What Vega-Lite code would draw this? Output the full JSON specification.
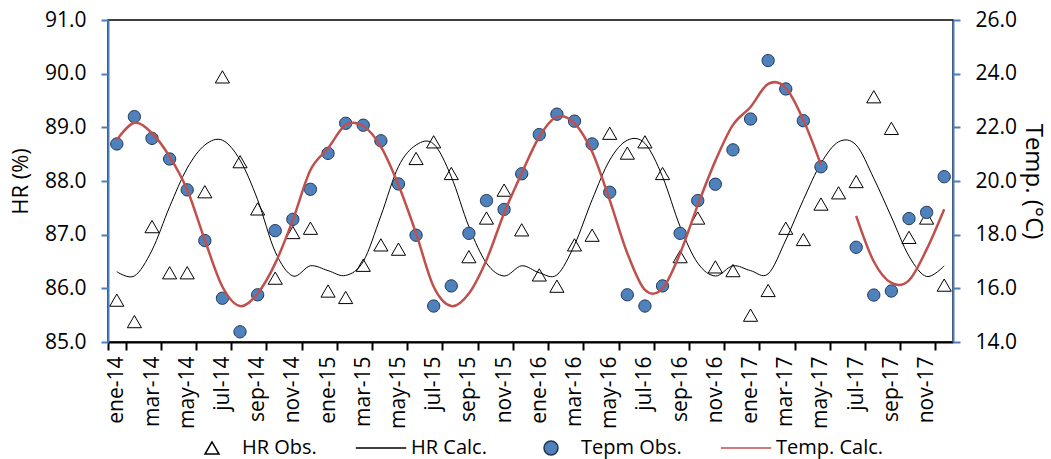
{
  "$schema": "https://vega.github.io/schema/vega-lite/v6.json",
  "width": 845,
  "height": 322,
  "autosize": "none",
  "padding": {"left": 108, "top": 20, "right": 98, "bottom": 117},
  "background": "white",
  "config": {
    "font": "Open Sans",
    "view": {"stroke": "black", "strokeWidth": 1.5},
    "axis": {"labelFont": "Open Sans", "titleFont": "Open Sans", "labelFontSize": 21, "titleFontSize": 22, "titleFontWeight": "normal", "labelColor": "black", "titleColor": "black", "grid": false},
    "legend": {"orient": "none", "legendX": 94, "legendY": 418, "direction": "horizontal", "labelFont": "Open Sans", "labelFontSize": 20, "labelColor": "black", "labelOffset": 20, "columnPadding": 35, "symbolSize": 196, "padding": 0, "symbolOpacity": 1}
  },
  "data": {"values": [
    {"m": "ene-14", "hro": 85.78, "hrc": 86.31, "to": 21.38, "tc": 21.53},
    {"m": "feb-14", "hro": 85.38, "hrc": 86.23, "to": 22.40, "tc": 22.17},
    {"m": "mar-14", "hro": 87.15, "hrc": 86.71, "to": 21.59, "tc": 21.78},
    {"m": "abr-14", "hro": 86.29, "hrc": 87.52, "to": 20.82, "tc": 20.91},
    {"m": "may-14", "hro": 86.29, "hrc": 88.24, "to": 19.67, "tc": 19.67},
    {"m": "jun-14", "hro": 87.80, "hrc": 88.67, "to": 17.78, "tc": 17.80},
    {"m": "jul-14", "hro": 89.94, "hrc": 88.76, "to": 15.63, "tc": 16.06},
    {"m": "ago-14", "hro": 88.36, "hrc": 88.39, "to": 14.38, "tc": 15.34},
    {"m": "sep-14", "hro": 87.48, "hrc": 87.65, "to": 15.76, "tc": 15.81},
    {"m": "oct-14", "hro": 86.19, "hrc": 86.68, "to": 18.15, "tc": 16.93},
    {"m": "nov-14", "hro": 87.04, "hrc": 86.23, "to": 18.57, "tc": 18.55},
    {"m": "dic-14", "hro": 87.12, "hrc": 86.42, "to": 19.69, "tc": 20.41},
    {"m": "ene-15", "hro": 85.95, "hrc": 86.33, "to": 21.03, "tc": 21.22},
    {"m": "feb-15", "hro": 85.83, "hrc": 86.24, "to": 22.15, "tc": 22.09},
    {"m": "mar-15", "hro": 86.43, "hrc": 86.50, "to": 22.08, "tc": 22.05},
    {"m": "abr-15", "hro": 86.81, "hrc": 87.35, "to": 21.50, "tc": 21.28},
    {"m": "may-15", "hro": 86.73, "hrc": 88.27, "to": 19.89, "tc": 19.85},
    {"m": "jun-15", "hro": 88.42, "hrc": 88.67, "to": 17.98, "tc": 18.05},
    {"m": "jul-15", "hro": 88.73, "hrc": 88.69, "to": 15.34, "tc": 16.06},
    {"m": "ago-15", "hro": 88.14, "hrc": 88.08, "to": 16.09, "tc": 15.34},
    {"m": "sep-15", "hro": 86.59, "hrc": 87.15, "to": 18.05, "tc": 15.81},
    {"m": "oct-15", "hro": 87.31, "hrc": 86.47, "to": 19.27, "tc": 17.06},
    {"m": "nov-15", "hro": 87.83, "hrc": 86.23, "to": 18.94, "tc": 18.80},
    {"m": "dic-15", "hro": 87.09, "hrc": 86.42, "to": 20.27, "tc": 20.29},
    {"m": "ene-16", "hro": 86.25, "hrc": 86.29, "to": 21.73, "tc": 21.65},
    {"m": "feb-16", "hro": 86.04, "hrc": 86.25, "to": 22.49, "tc": 22.40},
    {"m": "mar-16", "hro": 86.81, "hrc": 86.81, "to": 22.23, "tc": 22.15},
    {"m": "abr-16", "hro": 86.99, "hrc": 87.65, "to": 21.38, "tc": 21.09},
    {"m": "may-16", "hro": 88.89, "hrc": 88.39, "to": 19.58, "tc": 19.29},
    {"m": "jun-16", "hro": 88.52, "hrc": 88.76, "to": 15.76, "tc": 17.31},
    {"m": "jul-16", "hro": 88.73, "hrc": 88.70, "to": 15.34, "tc": 15.94},
    {"m": "ago-16", "hro": 88.14, "hrc": 88.08, "to": 16.09, "tc": 16.00},
    {"m": "sep-16", "hro": 86.59, "hrc": 87.15, "to": 18.05, "tc": 17.31},
    {"m": "oct-16", "hro": 87.31, "hrc": 86.47, "to": 19.27, "tc": 19.10},
    {"m": "nov-16", "hro": 86.40, "hrc": 86.23, "to": 19.88, "tc": 20.75},
    {"m": "dic-16", "hro": 86.33, "hrc": 86.42, "to": 21.16, "tc": 22.09},
    {"m": "ene-17", "hro": 85.50, "hrc": 86.33, "to": 22.31, "tc": 22.76},
    {"m": "feb-17", "hro": 85.96, "hrc": 86.27, "to": 24.49, "tc": 23.62},
    {"m": "mar-17", "hro": 87.12, "hrc": 86.90, "to": 23.43, "tc": 23.47},
    {"m": "abr-17", "hro": 86.91, "hrc": 87.65, "to": 22.25, "tc": 22.27},
    {"m": "may-17", "hro": 87.57, "hrc": 88.33, "to": 20.53, "tc": 20.60},
    {"m": "jun-17", "hro": 87.78, "hrc": 88.73, "to": null, "tc": null},
    {"m": "jul-17", "hro": 87.99, "hrc": 88.67, "to": 17.53, "tc": 18.70},
    {"m": "ago-17", "hro": 89.57, "hrc": 88.05, "to": 15.75, "tc": 17.00},
    {"m": "sep-17", "hro": 88.98, "hrc": 87.33, "to": 15.90, "tc": 16.20},
    {"m": "oct-17", "hro": 86.95, "hrc": 86.60, "to": 18.60, "tc": 16.30},
    {"m": "nov-17", "hro": 87.31, "hrc": 86.22, "to": 18.83, "tc": 17.45},
    {"m": "dic-17", "hro": 86.06, "hrc": 86.42, "to": 20.16, "tc": 18.95}
  ]},
  "encoding": {
    "x": {
      "field": "m", "type": "nominal",
      "scale": {"domain": ["ene-14","feb-14","mar-14","abr-14","may-14","jun-14","jul-14","ago-14","sep-14","oct-14","nov-14","dic-14","ene-15","feb-15","mar-15","abr-15","may-15","jun-15","jul-15","ago-15","sep-15","oct-15","nov-15","dic-15","ene-16","feb-16","mar-16","abr-16","may-16","jun-16","jul-16","ago-16","sep-16","oct-16","nov-16","dic-16","ene-17","feb-17","mar-17","abr-17","may-17","jun-17","jul-17","ago-17","sep-17","oct-17","nov-17","dic-17"], "paddingInner": 0, "paddingOuter": 0},
      "axis": {"title": null, "values": ["ene-14","mar-14","may-14","jul-14","sep-14","nov-14","ene-15","mar-15","may-15","jul-15","sep-15","nov-15","ene-16","mar-16","may-16","jul-16","sep-16","nov-16","ene-17","mar-17","may-17","jul-17","sep-17","nov-17"], "labelAngle": -90, "tickBand": "extent", "domainColor": "black", "domainWidth": 2, "tickColor": "black", "tickWidth": 2, "tickSize": 8, "labelPadding": 6}
    }
  },
  "layer": [
    {
      "layer": [
        {
          "mark": {"type": "point", "filled": true, "opacity": 1, "strokeWidth": 1, "size": 200},
          "encoding": {
            "y": {"field": "hro", "type": "quantitative", "scale": {"domain": [85, 91], "nice": false, "zero": false}, "axis": {"orient": "left", "title": "HR (%)", "values": [85, 86, 87, 88, 89, 90, 91], "format": ".1f", "domainColor": "#4A7EBB", "domainWidth": 2, "tickColor": "#4A7EBB", "tickWidth": 2, "tickSize": 7, "labelPadding": 15, "titlePadding": 12, "titleFontSize": 22}},
            "shape": {"datum": "HR Obs.", "type": "nominal", "scale": {"domain": ["HR Obs.", "HR Calc.", "Tepm Obs.", "Temp. Calc."], "range": ["M-3.6,0M3.6,0M0,-0.866L-1,0.866L1,0.866Z", "M-3.6,0H3.6", "M-3.6,0M3.6,0M1,0A1,1,0,1,1,-1,0A1,1,0,1,1,1,0Z", "M-3.6,0H3.6"]}, "legend": {"title": null, "encoding": {"symbols": {"update": {"strokeWidth": {"signal": "datum.value === 'Temp. Calc.' ? 2.5 : 1"}}}}}},
            "fill": {"datum": "HR Obs.", "type": "nominal", "scale": {"domain": ["HR Obs.", "HR Calc.", "Tepm Obs.", "Temp. Calc."], "range": ["white", "transparent", "#4F81BD", "transparent"]}, "legend": {"title": null}},
            "stroke": {"datum": "HR Obs.", "type": "nominal", "scale": {"domain": ["HR Obs.", "HR Calc.", "Tepm Obs.", "Temp. Calc."], "range": ["black", "black", "#1F3552", "#C0504D"]}, "legend": {"title": null}}
          }
        },
        {
          "mark": {"type": "line", "interpolate": "cardinal", "strokeWidth": 1},
          "encoding": {
            "y": {"field": "hrc", "type": "quantitative", "scale": {"domain": [85, 91], "nice": false, "zero": false}, "axis": {"orient": "left", "title": "HR (%)", "values": [85, 86, 87, 88, 89, 90, 91], "format": ".1f", "domainColor": "#4A7EBB", "domainWidth": 2, "tickColor": "#4A7EBB", "tickWidth": 2, "tickSize": 7, "labelPadding": 15, "titlePadding": 12, "titleFontSize": 22}},
            "stroke": {"datum": "HR Calc.", "type": "nominal", "legend": {"title": null}}
          }
        }
      ]
    },
    {
      "layer": [
        {
          "mark": {"type": "point", "filled": true, "opacity": 1, "strokeWidth": 1, "size": 150},
          "encoding": {
            "y": {"field": "to", "type": "quantitative", "scale": {"domain": [14, 26], "nice": false, "zero": false}, "axis": {"orient": "right", "title": "Temp. (°C)", "values": [14, 16, 18, 20, 22, 24, 26], "format": ".1f", "domainColor": "#4A7EBB", "domainWidth": 2, "tickColor": "#4A7EBB", "tickWidth": 2, "tickSize": 7, "labelPadding": 15, "titlePadding": 4, "titleFontSize": 24}},
            "shape": {"datum": "Tepm Obs.", "type": "nominal", "legend": {"title": null}},
            "fill": {"datum": "Tepm Obs.", "type": "nominal", "legend": {"title": null}},
            "stroke": {"datum": "Tepm Obs.", "type": "nominal", "legend": {"title": null}}
          }
        },
        {
          "mark": {"type": "line", "interpolate": "cardinal", "strokeWidth": 2.5, "invalid": "break-paths-filter-domains"},
          "encoding": {
            "y": {"field": "tc", "type": "quantitative", "scale": {"domain": [14, 26], "nice": false, "zero": false}, "axis": {"orient": "right", "title": "Temp. (°C)", "values": [14, 16, 18, 20, 22, 24, 26], "format": ".1f", "domainColor": "#4A7EBB", "domainWidth": 2, "tickColor": "#4A7EBB", "tickWidth": 2, "tickSize": 7, "labelPadding": 15, "titlePadding": 4, "titleFontSize": 24}},
            "stroke": {"datum": "Temp. Calc.", "type": "nominal", "legend": {"title": null}}
          }
        }
      ]
    }
  ],
  "resolve": {"scale": {"y": "independent"}, "axis": {"y": "independent"}}
}
